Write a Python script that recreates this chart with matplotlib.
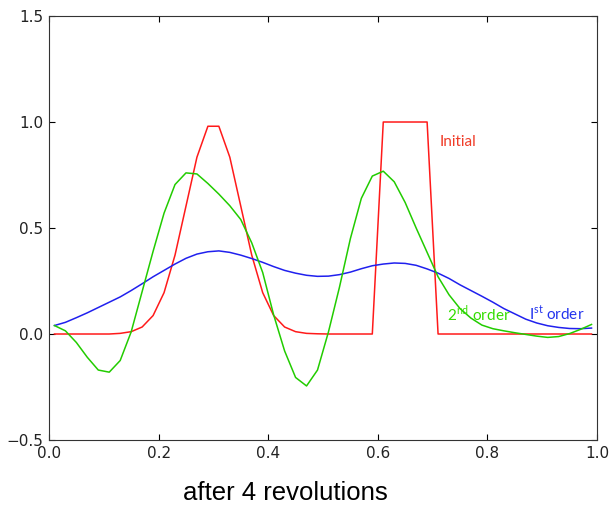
import matplotlib
matplotlib.use('Agg')
import matplotlib.pyplot as plt

# cell centres
x = [0.01, 0.03, 0.05, 0.07, 0.09, 0.11, 0.13, 0.15, 0.17, 0.19,
     0.21, 0.23, 0.25, 0.27, 0.29, 0.31, 0.33, 0.35, 0.37, 0.39,
     0.41, 0.43, 0.45, 0.47, 0.49, 0.51, 0.53, 0.55, 0.57, 0.59,
     0.61, 0.63, 0.65, 0.67, 0.69, 0.71, 0.73, 0.75, 0.77, 0.79,
     0.81, 0.83, 0.85, 0.87, 0.89, 0.91, 0.93, 0.95, 0.97, 0.99]

initial = [0, 0, 0, 0, 0, 0, 0.003, 0.011, 0.033, 0.087,
           0.195, 0.372, 0.603, 0.834, 0.98, 0.98, 0.834, 0.603, 0.372, 0.195,
           0.087, 0.033, 0.011, 0.003, 0.001, 0, 0, 0, 0, 0,
           1, 1, 1, 1, 1, 0, 0, 0, 0, 0,
           0, 0, 0, 0, 0, 0, 0, 0, 0, 0]

first = [0.04, 0.055, 0.077, 0.10, 0.125, 0.15, 0.175, 0.205, 0.237, 0.27,
         0.30, 0.33, 0.357, 0.377, 0.388, 0.392, 0.385, 0.372, 0.356, 0.338,
         0.318, 0.30, 0.287, 0.277, 0.272, 0.273, 0.28, 0.292, 0.308, 0.322,
         0.33, 0.335, 0.333, 0.324, 0.307, 0.287, 0.262, 0.232, 0.205, 0.178,
         0.15, 0.12, 0.095, 0.07, 0.052, 0.039, 0.031, 0.026, 0.025, 0.028]

second = [0.04, 0.015, -0.04, -0.11, -0.17, -0.18, -0.125, 0.01, 0.2, 0.39,
          0.57, 0.705, 0.76, 0.755, 0.71, 0.66, 0.605, 0.54, 0.43, 0.29,
          0.09, -0.08, -0.205, -0.245, -0.17, 0.01, 0.22, 0.45, 0.64, 0.745,
          0.768, 0.718, 0.62, 0.50, 0.385, 0.27, 0.185, 0.12, 0.075, 0.042,
          0.025, 0.015, 0.006, -0.002, -0.01, -0.016, -0.012, 0.002, 0.022, 0.045]

plt.rcParams['mathtext.fontset'] = 'custom'
plt.rcParams['mathtext.rm'] = 'Lato'

fig = plt.figure(figsize=(6.12, 5.05), dpi=100)
ax = fig.add_axes([0.080, 0.1287, 0.8955, 0.8396])

ax.plot(x, initial, color='#ff1a1a', lw=1.1)
ax.plot(x, first, color='#2020ee', lw=1.1)
ax.plot(x, second, color='#22cc00', lw=1.1)

ax.set_xlim(0, 1)
ax.set_ylim(-0.5, 1.5)
ax.set_xticks([0.0, 0.2, 0.4, 0.6, 0.8, 1.0])
ax.set_yticks([-0.5, 0.0, 0.5, 1.0, 1.5])
ax.tick_params(direction='in', top=True, right=True, labelsize=11, length=4, pad=4,
               labelcolor='#222222')
for s in ax.spines.values():
    s.set_color('#333333')

ax.text(0.7135, 0.905, 'Initial', color='#f03c28', fontsize=11, family='Lato', va='center')
ax.text(0.726, 0.097, '2$^{\\rm nd}$ order', color='#33dd00', fontsize=11, family='Lato', va='center')
ax.text(0.876, 0.097, 'I$^{\\rm st}$ order', color='#2233ee', fontsize=11, family='Lato', va='center')

fig.text(285/612, 1-493/505, 'after 4 revolutions', fontsize=18.5, family='Liberation Sans',
         ha='center', va='center')

fig.savefig('out.png', dpi=100)
